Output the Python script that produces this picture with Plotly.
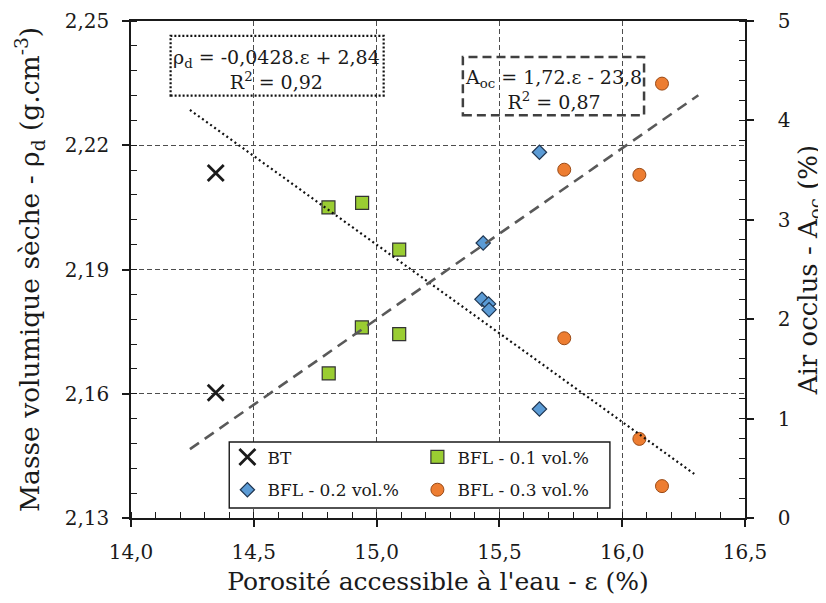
import plotly.graph_objects as go

# ---------------- data ----------------
series_names = ["BT", "BFL - 0.1 vol.%", "BFL - 0.2 vol.%", "BFL - 0.3 vol.%"]

# dry density (left axis) vs porosity
bt_eps_rho = [14.345]
bt_rho = [2.2133]
b1_eps_rho = [14.804, 14.941, 15.092]
b1_rho = [2.2050, 2.2061, 2.1948]
b2_eps_rho = [15.429, 15.456, 15.458, 15.663]
b2_rho = [2.1828, 2.1817, 2.1803, 2.1563]
b3_eps_rho = [15.764, 16.070, 16.162]
b3_rho = [2.1734, 2.1491, 2.1377]

# occluded air (right axis) vs porosity
bt_eps_air = [14.345]
bt_air = [1.26]
b1_eps_air = [14.805, 14.940, 15.092]
b1_air = [1.454, 1.918, 1.850]
b2_eps_air = [15.434, 15.663]
b2_air = [2.767, 3.680]
b3_eps_air = [15.764, 16.070, 16.162]
b3_air = [3.504, 3.452, 4.370]

# linear trend lines
rho_fit_slope, rho_fit_intercept = -0.0428, 2.838
rho_fit_x = [14.24, 16.30]
air_fit_slope, air_fit_intercept = 1.72, -23.8
air_fit_x = [14.24, 16.31]

eq_rho = "ρ<sub>d</sub> = -0,0428.ε + 2,84<br>R<sup>2</sup> = 0,92"
eq_air = "A<sub>oc</sub> = 1,72.ε - 23,8<br>R<sup>2</sup> = 0,87"

# ---------------- styling ----------------
FONT = "DejaVu Serif"
TXT = "#1a1a1a"
GREEN, BLUE, ORANGE = "#9ACD32", "#5B9BD5", "#ED7D31"

fig = go.Figure()

styles = [
    dict(symbol="x-thin", size=16, color=TXT, line=dict(width=2.8, color=TXT)),
    dict(symbol="square", size=13, color=GREEN, line=dict(width=1.2, color="#333333")),
    dict(symbol="diamond", size=11, color=BLUE, line=dict(width=1.2, color="#1f3550")),
    dict(symbol="circle", size=13, color=ORANGE, line=dict(width=1, color="#9a4a16")),
]
rho_sets = [(bt_eps_rho, bt_rho), (b1_eps_rho, b1_rho), (b2_eps_rho, b2_rho), (b3_eps_rho, b3_rho)]
air_sets = [(bt_eps_air, bt_air), (b1_eps_air, b1_air), (b2_eps_air, b2_air), (b3_eps_air, b3_air)]
legends = ["legend", "legend", "legend2", "legend2"]

for i, name in enumerate(series_names):
    ex, ey = rho_sets[i]
    fig.add_trace(go.Scatter(x=ex, y=ey, mode="markers", name=name, marker=styles[i],
                             legendgroup=name, legend=legends[i], yaxis="y"))
for i, name in enumerate(series_names):
    ex, ey = air_sets[i]
    fig.add_trace(go.Scatter(x=ex, y=ey, mode="markers", name=name, marker=styles[i],
                             legendgroup=name, legend=legends[i], showlegend=False, yaxis="y2"))

# trend lines (drawn over the markers)
fig.add_trace(go.Scatter(x=rho_fit_x, y=[rho_fit_slope * v + rho_fit_intercept for v in rho_fit_x],
                         mode="lines", line=dict(color="#111111", width=2.2, dash="2px,3px"),
                         showlegend=False, hoverinfo="skip", yaxis="y"))
fig.add_trace(go.Scatter(x=air_fit_x, y=[air_fit_slope * v + air_fit_intercept for v in air_fit_x],
                         mode="lines", line=dict(color="#595959", width=2.6, dash="11px,7px"),
                         showlegend=False, hoverinfo="skip", yaxis="y2"))

axis_common = dict(
    showline=True, linecolor=TXT, linewidth=1.6,
    ticks="outside", ticklen=7, tickwidth=1.5, tickcolor=TXT,
    tickfont=dict(family=FONT, size=20, color=TXT),
    zeroline=False, automargin=False,
)
grid = dict(showgrid=True, gridcolor="#4d4d4d", gridwidth=1.3, griddash="5px,3px")

# the page body has an 8 px margin, so the figure is 8 px smaller than the window
fig.update_layout(
    width=818, height=595,
    margin=dict(l=123, r=81, t=13, b=85),
    paper_bgcolor="white", plot_bgcolor="white",
    separators=", ",
    font=dict(family=FONT, color=TXT),
    xaxis=dict(range=[14.0, 16.5], dtick=0.5, tick0=14.0, tickformat=".1f", mirror=True,
               ticklabelstandoff=8,
               minor=dict(dtick=0.1, ticks="inside", ticklen=6, tickwidth=1.4, tickcolor=TXT, showgrid=False),
               title=dict(text="Porosité accessible à l'eau - ε (%)", font=dict(family=FONT, size=25, color=TXT),
                          standoff=10),
               **axis_common, **grid),
    yaxis=dict(range=[2.13, 2.25], dtick=0.03, tick0=2.13, tickformat=".2f",
               ticklabelstandoff=9,
               minor=dict(dtick=0.006, ticks="inside", ticklen=6, tickwidth=1.4, tickcolor=TXT, showgrid=False),
               title=dict(text="Masse volumique sèche - ρ<sub>d</sub> (g.cm<sup>-3</sup>)",
                          font=dict(family=FONT, size=26.5, color=TXT), standoff=17),
               **axis_common, **grid),
    yaxis2=dict(range=[0, 5], dtick=1, tick0=0, overlaying="y", side="right", showgrid=False,
                ticklabelstandoff=20,
                minor=dict(dtick=0.2, ticks="inside", ticklen=6, tickwidth=1.4, tickcolor=TXT, showgrid=False),
                title=dict(text="Air occlus - A<sub>oc</sub> (%)", font=dict(family=FONT, size=26, color=TXT),
                           standoff=10),
                **axis_common),
    legend=dict(orientation="h", x=0.157, y=0.122, xanchor="left", yanchor="middle",
                bgcolor="rgba(0,0,0,0)", borderwidth=0, entrywidth=145, entrywidthmode="pixels",
                font=dict(family=FONT, size=17, color=TXT)),
    legend2=dict(orientation="h", x=0.157, y=0.056, xanchor="left", yanchor="middle",
                 bgcolor="rgba(0,0,0,0)", borderwidth=0, entrywidth=145, entrywidthmode="pixels",
                 font=dict(family=FONT, size=17, color=TXT)),
    showlegend=True,
)

# legend frame
fig.add_shape(type="rect", xref="paper", yref="paper", x0=0.160, x1=0.780, y0=0.020, y1=0.153,
              fillcolor="white", line=dict(color=TXT, width=1.4), layer="above")
# equation frames
fig.add_shape(type="rect", xref="paper", yref="paper", x0=0.0645, x1=0.4115, y0=0.850, y1=0.970,
              line=dict(color="#111111", width=2.2, dash="2px,2px"), layer="above")
fig.add_shape(type="rect", xref="paper", yref="paper", x0=0.5405, x1=0.8356, y0=0.8104, y1=0.9276,
              line=dict(color="#404040", width=2.5, dash="9px,5px"), layer="above")

fig.add_annotation(text=eq_rho, xref="paper", yref="paper", x=0.2365, y=0.902, showarrow=False,
                   xanchor="center", yanchor="middle", align="center",
                   font=dict(family=FONT, size=19, color=TXT))
fig.add_annotation(text=eq_air, xref="paper", yref="paper", x=0.6874, y=0.8627, showarrow=False,
                   xanchor="center", yanchor="middle", align="center",
                   font=dict(family=FONT, size=19, color=TXT))

fig.write_html("out.html")
